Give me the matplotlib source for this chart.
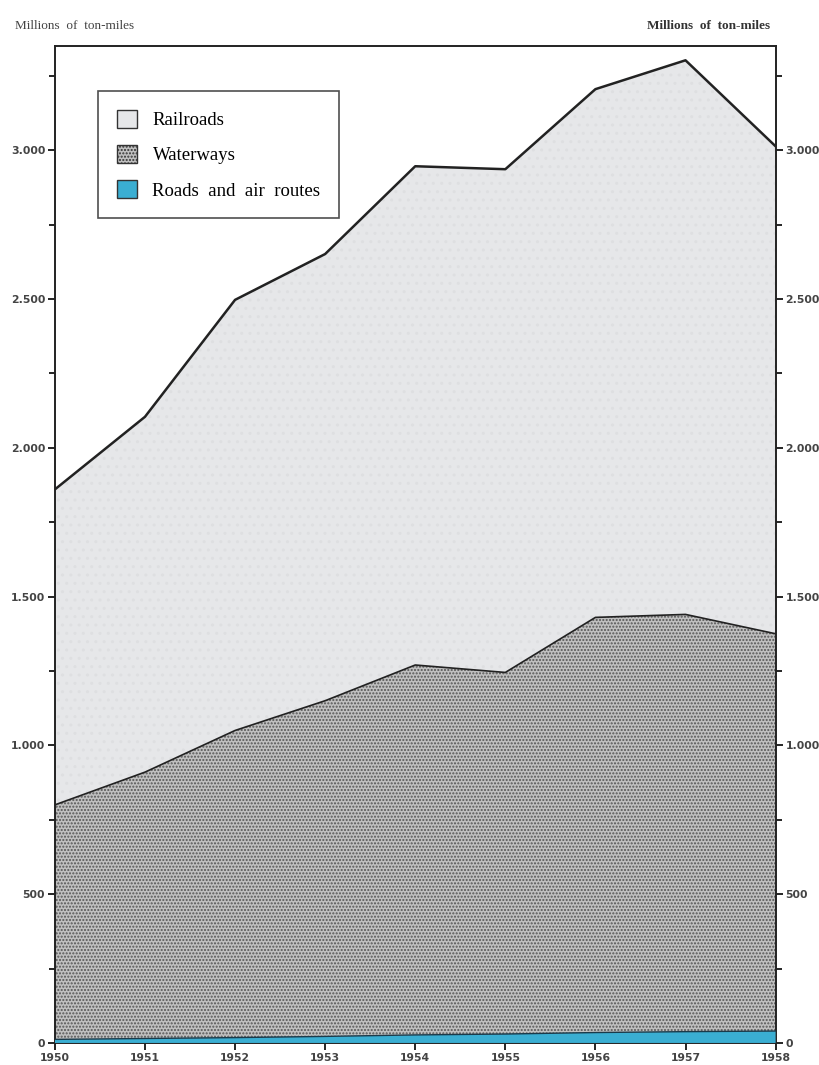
import matplotlib.pyplot as plt
from matplotlib.patches import Patch
from matplotlib.ticker import FuncFormatter, MultipleLocator

# ton-miles (millions)
years = [1950, 1951, 1952, 1953, 1954, 1955, 1956, 1957, 1958]
roads_air = [12, 15, 18, 22, 27, 30, 35, 38, 40]
waterways = [788, 895, 1032, 1128, 1243, 1215, 1395, 1402, 1335]
railroads = [1060, 1194, 1447, 1501, 1676, 1691, 1775, 1862, 1638]

labels = ['Railroads', 'Waterways', 'Roads  and  air  routes']
rail_col = '#e6e7e9'
water_col = '#c0c0c0'
road_col = '#3aaed2'

tot_road = roads_air
tot_water = [a + b for a, b in zip(tot_road, waterways)]
tot_all = [a + b for a, b in zip(tot_water, railroads)]

fig = plt.figure(figsize=(8.19, 10.65), dpi=100)
ax = fig.add_axes([0.067, 0.0207, 0.88, 0.9361])

ax.fill_between(years, 0, tot_road, facecolor=road_col, edgecolor='none', zorder=3)
ax.fill_between(years, tot_road, tot_water, facecolor=water_col, hatch='.....',
                edgecolor='#555555', linewidth=0, zorder=2)
ax.fill_between(years, tot_water, tot_all, facecolor=rail_col, hatch='..',
                edgecolor='#dedfe1', linewidth=0, zorder=1)

ax.plot(years, tot_all, color='#222222', lw=1.8, zorder=4)
ax.plot(years, tot_water, color='#222222', lw=1.2, zorder=4)
ax.plot(years, tot_road, color='#1a3a4a', lw=1.0, zorder=4)

ax.set_xlim(1950, 1958)
ax.set_ylim(0, 3350)
ax.set_xticks(years)
ax.yaxis.set_major_locator(MultipleLocator(500))
ax.yaxis.set_minor_locator(MultipleLocator(250))

fmt = FuncFormatter(lambda v, p: '{:,.0f}'.format(v).replace(',', '.'))
ax.yaxis.set_major_formatter(fmt)

tick_font = dict(family='DejaVu Sans', fontsize=7.8, fontweight='bold', color='#444444')
ax.tick_params(axis='both', which='major', length=5, width=1.2, direction='out', pad=2)
ax.tick_params(axis='y', which='minor', length=4, width=1.2, direction='out')
ax.tick_params(axis='y', which='both', left=True, right=True,
               labelleft=True, labelright=True)
for t in ax.xaxis.get_major_ticks():
    t.label1.set(**tick_font)
for t in ax.yaxis.get_major_ticks():
    t.label1.set(**tick_font)
    t.label2.set(**tick_font)
ax.tick_params(axis='y', which='major', pad=2)

for s in ax.spines.values():
    s.set_linewidth(1.4)
    s.set_color('#222222')

handles = [
    Patch(facecolor=rail_col, edgecolor='#333333', label=labels[0]),
    Patch(facecolor=water_col, edgecolor='#333333', hatch='.....', label=labels[1]),
    Patch(facecolor=road_col, edgecolor='#333333', label=labels[2]),
]
leg = ax.legend(handles=handles, loc='upper left', bbox_to_anchor=(0.06, 0.955),
                prop={'family': 'Liberation Serif', 'size': 13.5},
                frameon=True, fancybox=False, edgecolor='#222222',
                handlelength=1.1, handleheight=1.1, handletextpad=0.8,
                labelspacing=0.85, borderpad=1.0, borderaxespad=0)
leg.get_frame().set_linewidth(1.2)
leg.set_zorder(10)

fig.text(0.018, 0.976, 'Millions  of  ton-miles', family='Liberation Serif',
         fontsize=9.5, color='#444444', ha='left', va='center')
fig.text(0.94, 0.976, 'Millions  of  ton-miles', family='Liberation Serif',
         fontsize=9.5, fontweight='bold', color='#333333', ha='right', va='center')

fig.savefig('out.png', dpi=100, facecolor='white')
